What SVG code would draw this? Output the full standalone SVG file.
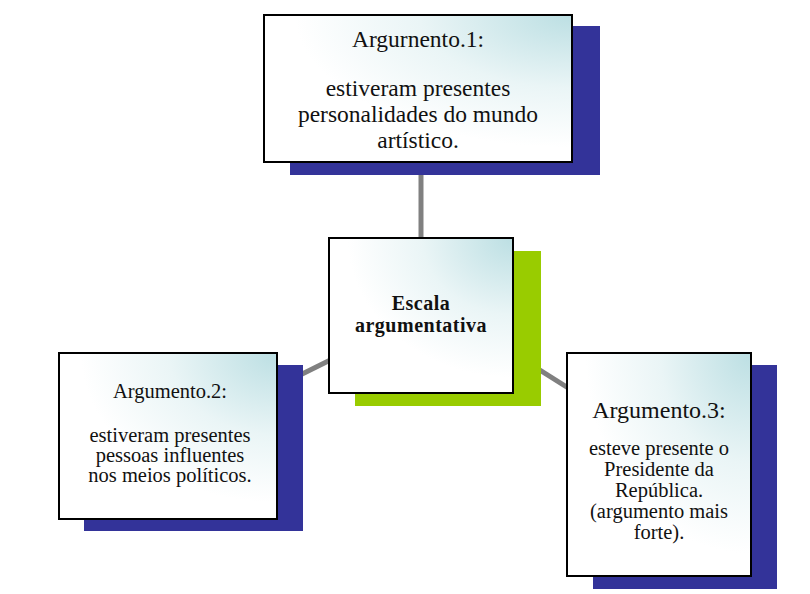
<svg xmlns="http://www.w3.org/2000/svg" width="810" height="594" viewBox="0 0 810 594">
<defs>
<radialGradient id="g" cx="1" cy="0" r="0.9" gradientUnits="objectBoundingBox">
<stop offset="0" stop-color="#bcdfe3"/>
<stop offset="0.55" stop-color="#eaf5f6"/>
<stop offset="1" stop-color="#ffffff"/>
</radialGradient>
<style>
.box{fill:url(#g);stroke:#000;stroke-width:2}
.sh{fill:#333399}
.t{font-family:"Liberation Serif","Times New Roman",serif;fill:#111;text-anchor:middle}
.con{stroke:#808080;stroke-width:5;fill:none}
</style>
</defs>
<rect width="810" height="594" fill="#fff"/>
<g id="connectors">
<line class="con" x1="421" y1="160" x2="421" y2="245"/>
<line class="con" x1="421" y1="315" x2="280" y2="385"/>
<line class="con" x1="421" y1="295" x2="600" y2="408"/>
</g>
<g id="arg1">
<rect class="sh" x="290" y="26" width="310" height="149"/>
<rect class="box" x="264" y="15" width="308" height="147"/>
<text class="t" font-size="23.5"><tspan x="418" y="47">Argurnento.1:</tspan><tspan x="418" y="96">estiveram presentes</tspan><tspan x="418" y="122">personalidades do mundo</tspan><tspan x="418" y="148">artístico.</tspan></text>
</g>
<g id="center">
<rect x="355" y="251" width="186" height="155" fill="#99cc00"/>
<rect class="box" x="329" y="238" width="184" height="155"/>
<text class="t" font-size="20" font-weight="bold" letter-spacing="0.5"><tspan x="421" y="310">Escala</tspan><tspan x="421" y="332">argumentativa</tspan></text>
</g>
<g id="arg2">
<rect class="sh" x="84" y="365" width="219" height="166"/>
<rect class="box" x="59" y="353" width="218" height="166"/>
<text class="t" font-size="20.5"><tspan x="170" y="398">Argumento.2:</tspan><tspan x="170" y="442">estiveram presentes</tspan><tspan x="170" y="462">pessoas influentes</tspan><tspan x="170" y="482">nos meios políticos.</tspan></text>
</g>
<g id="arg3">
<rect class="sh" x="593" y="365" width="184" height="224"/>
<rect class="box" x="567" y="353" width="184" height="223"/>
<text class="t" font-size="24"><tspan x="659" y="418">Argumento.3:</tspan></text>
<text class="t" font-size="20.5"><tspan x="659" y="455">esteve presente o</tspan><tspan x="659" y="476">Presidente da</tspan><tspan x="659" y="497">República.</tspan><tspan x="659" y="518">(argumento mais</tspan><tspan x="659" y="539">forte).</tspan></text>
</g>
</svg>
